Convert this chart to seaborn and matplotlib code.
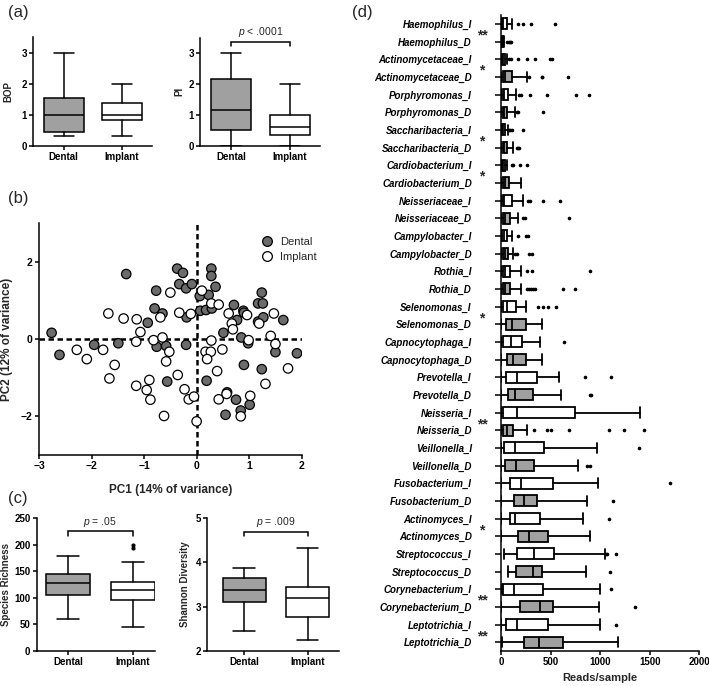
import numpy as np
import pandas as pd
import matplotlib
matplotlib.use("Agg")
import matplotlib.pyplot as plt
import matplotlib.transforms as mtransforms
from matplotlib.lines import Line2D
import seaborn as sns

# ---------------- data ----------------
groups = ["Dental", "Implant"]

# (a) BOP / PI box stats: whislo, q1, med, q3, whishi
bop_lo = [0.33, 0.33]
bop_q1 = [0.45, 0.82]
bop_med = [1.0, 1.0]
bop_q3 = [1.55, 1.37]
bop_hi = [3.0, 2.0]

pi_lo = [0.0, 0.0]
pi_q1 = [0.52, 0.33]
pi_med = [1.17, 0.60]
pi_q3 = [2.17, 1.0]
pi_hi = [3.0, 2.0]

# (b) PCA scores
dental_pc1 = [-2.76, -2.61, -1.95, -1.49, -1.34, -0.93, -0.77, -0.80, -0.65, -0.76,
              -0.58, -0.56, -0.37, -0.26, -0.33, -0.20, -0.09, -0.19, -0.20, 0.28,
              0.28, 0.36, 0.06, 0.23, 0.07, 0.18, 0.29, 0.19, 0.51, 0.71,
              0.77, 0.89, 0.90, 0.85, 0.98, 0.90, 1.17, 1.24, 1.17, 1.26,
              1.27, 1.24, 1.50, 1.65, 1.91, 0.58, 0.75, 0.84, 1.01, 0.55]
dental_pc2 = [0.16, -0.41, -0.15, -0.11, 1.68, 0.42, 1.25, 0.79, 0.66, -0.20,
              -0.18, -1.10, 1.82, 1.71, 1.42, 1.31, 1.42, 0.56, -0.15, 1.82,
              1.63, 1.35, 1.11, 1.14, 0.73, 0.75, 0.79, -1.08, 0.16, 0.88,
              0.49, 0.73, 0.68, 0.04, -0.11, -0.67, 0.45, 1.20, 0.92, 0.92,
              0.56, -0.78, -0.34, 0.49, -0.37, -1.38, -1.57, -1.85, -1.70, -1.96]
implant_pc1 = [-2.28, -2.09, -1.78, -1.68, -1.39, -1.56, -1.66, -1.14, -1.07, -1.15,
               -1.15, -0.95, -0.90, -0.88, -0.69, -0.82, -0.65, -0.52, -0.58, -0.50,
               -0.33, -0.11, -0.36, -0.23, -0.15, -0.05, -0.62, 0.10, 0.28, 0.42,
               0.28, 0.17, 0.27, 0.20, 0.49, 0.39, 0.42, 0.57, 0.61, 0.67,
               0.69, 0.96, 0.99, 1.02, 0.84, 1.19, 1.41, 1.47, 1.50, 1.31,
               1.74, 0.00]
implant_pc2 = [-0.28, -0.52, -0.28, 0.66, 0.53, -0.67, -1.02, 0.51, 0.18, -0.07,
               -1.21, -1.32, -1.06, -1.57, 0.56, -0.03, 0.04, -0.33, -0.58, 1.20,
               0.68, 0.65, -0.93, -1.30, -1.56, -1.49, -1.99, 1.25, 0.92, 0.89,
               -0.04, -0.33, -0.33, -0.52, -0.27, -0.83, -1.56, -1.42, 0.66, 0.40,
               0.25, 0.62, -0.03, -1.47, -2.00, 0.40, 0.08, 0.66, -0.13, -1.16,
               -0.76, -2.13]

# (c) richness / Shannon box stats
rich_lo = [61, 45]
rich_q1 = [105, 95]
rich_med = [128, 114]
rich_q3 = [145, 130]
rich_hi = [179, 168]
rich_fliers = [[], [193, 200]]

sh_lo = [2.46, 2.25]
sh_q1 = [3.11, 2.77]
sh_med = [3.38, 3.20]
sh_q3 = [3.64, 3.45]
sh_hi = [3.88, 4.32]

# (d) reads/sample per taxon (top to bottom)
taxa = ["Haemophilus_I", "Haemophilus_D", "Actinomycetaceae_I", "Actinomycetaceae_D",
        "Porphyromonas_I", "Porphyromonas_D", "Saccharibacteria_I", "Saccharibacteria_D",
        "Cardiobacterium_I", "Cardiobacterium_D", "Neisseriaceae_I", "Neisseriaceae_D",
        "Campylobacter_I", "Campylobacter_D", "Rothia_I", "Rothia_D",
        "Selenomonas_I", "Selenomonas_D", "Capnocytophaga_I", "Capnocytophaga_D",
        "Prevotella_I", "Prevotella_D", "Neisseria_I", "Neisseria_D",
        "Veillonella_I", "Veillonella_D", "Fusobacterium_I", "Fusobacterium_D",
        "Actinomyces_I", "Actinomyces_D", "Streptococcus_I", "Streptococcus_D",
        "Corynebacterium_I", "Corynebacterium_D", "Leptotrichia_I", "Leptotrichia_D"]
d_lo = [0, 0, 0, 0, 0, 0, 0, 0, 0, 0, 0, 0, 0, 0, 0, 0, 0, 0,
        0, 0, 0, 0, 0, 0, 0, 0, 0, 0, 0, 0, 30, 67, 10, 0, 0, 15]
d_q1 = [13, 2, 7, 17, 17, 17, 13, 17, 10, 17, 17, 17, 10, 17, 17, 17, 17, 47,
        17, 64, 47, 67, 24, 17, 30, 40, 91, 132, 91, 169, 165, 148, 17, 192, 47, 236]
d_med = [24, 8, 20, 44, 30, 30, 24, 30, 17, 44, 27, 44, 30, 40, 37, 44, 57, 115,
         101, 118, 165, 142, 165, 64, 142, 148, 202, 236, 142, 287, 334, 320, 135, 395, 165, 388]
d_q3 = [57, 20, 44, 115, 67, 61, 40, 57, 37, 78, 115, 88, 64, 67, 91, 91, 152, 253,
        216, 253, 361, 327, 742, 118, 435, 337, 523, 361, 395, 469, 530, 418, 422, 523, 479, 621]
d_hi = [115, 35, 57, 260, 148, 145, 67, 118, 64, 199, 226, 175, 108, 125, 202, 202, 253, 418,
        395, 411, 580, 607, 1400, 260, 968, 776, 978, 867, 826, 894, 1052, 860, 1002, 992, 1002, 1180]
d_fliers = [[175, 219, 300, 546], [60, 80, 95, 105], [81, 98, 175, 260, 344, 496, 513],
            [287, 411, 418, 675], [186, 199, 293, 462, 759, 887], [159, 169, 428],
            [78, 91, 111, 226], [159, 175, 186], [108, 125, 192, 266], [],
            [270, 293, 422, 597], [226, 243, 681], [175, 250, 270], [142, 159, 287, 310],
            [260, 317, 901], [260, 287, 300, 320, 344, 624, 749], [371, 422, 479, 553], [],
            [631], [], [850, 1110], [901, 911], [], [337, 462, 503, 681, 1086, 1238, 1440],
            [1390], [867, 894], [1703], [1130], [1086], [], [1059, 1069, 1164], [1103],
            [1110], [1349], [1164], []]
sig_pairs = [(0, "**"), (2, "*"), (6, "*"), (8, "*"), (16, "*"), (22, "**"),
             (28, "*"), (32, "**"), (34, "**")]

# ---------------- style ----------------
sns.set_theme(style="ticks")
plt.rcParams["font.family"] = ["Liberation Sans", "DejaVu Sans"]
plt.rcParams["mathtext.fontset"] = "custom"
plt.rcParams["mathtext.rm"] = "Liberation Sans"
plt.rcParams["mathtext.it"] = "Liberation Sans:italic"
plt.rcParams["axes.linewidth"] = 1.1
plt.rcParams["axes.edgecolor"] = "black"
plt.rcParams["xtick.color"] = "black"
plt.rcParams["ytick.color"] = "black"

GREY = "#a0a0a0"
DARK = "#6b6b6b"
LW = 1.1

W, H = 709, 686
fig = plt.figure(figsize=(W / 100, H / 100), dpi=100)
fig.patch.set_facecolor("white")


def rect(l, t, r, b):
    return [l / W, 1 - b / H, (r - l) / W, (b - t) / H]


def make_stats(lo, q1, med, q3, hi, fl=None):
    out = []
    for i in range(len(lo)):
        out.append(dict(whislo=lo[i], q1=q1[i], med=med[i], q3=q3[i], whishi=hi[i],
                        fliers=(fl[i] if fl is not None else [])))
    return out


def boxprops(lw):
    return dict(boxprops=dict(edgecolor="black", linewidth=lw),
                whiskerprops=dict(color="black", linewidth=lw),
                capprops=dict(color="black", linewidth=lw),
                medianprops=dict(color="black", linewidth=lw),
                flierprops=dict(marker="o", markersize=2, markerfacecolor="black",
                                markeredgecolor="black", linestyle="none"))


def group_panel(ax, stats, xlim, ylim, yticks, ylabel, labelpad, tickfs=7):
    bp = ax.bxp(stats, positions=[0, 1], widths=0.68, capwidths=0.34, patch_artist=True,
                showfliers=True, manage_ticks=False, **boxprops(LW))
    for p, c in zip(bp["boxes"], [GREY, "white"]):
        p.set_facecolor(c)
    ax.set_xlim(*xlim)
    ax.set_ylim(*ylim)
    ax.set_xticks([0, 1])
    ax.set_xticklabels(groups, fontweight="bold", fontsize=7)
    ax.set_yticks(yticks)
    ax.set_yticklabels([f"{v:g}" for v in yticks], fontweight="bold", fontsize=tickfs)
    ax.set_ylabel(ylabel, fontweight="bold", fontsize=7, labelpad=labelpad)
    sns.despine(ax=ax)
    ax.tick_params(length=3, width=LW, pad=1.5)
    ax.set_facecolor("white")


def bracket(ax, y, h, text, dy):
    ax.plot([0, 0, 1, 1], [y - h, y, y, y - h], color="black", lw=LW, clip_on=False,
            solid_joinstyle="miter")
    ax.text(0.5, y + dy, text, ha="center", va="bottom", fontsize=7.5)


# ---------------- (a) ----------------
ax_bop = fig.add_axes(rect(33, 37, 152, 146))
group_panel(ax_bop, make_stats(bop_lo, bop_q1, bop_med, bop_q3, bop_hi),
            (-0.53, 1.52), (0, 3.5), [0, 1, 2, 3], "BOP", 6)

ax_pi = fig.add_axes(rect(200, 38, 320, 145.5))
group_panel(ax_pi, make_stats(pi_lo, pi_q1, pi_med, pi_q3, pi_hi),
            (-0.525, 1.51), (0, 3.5), [0, 1, 2, 3], "PI", 3)
bracket(ax_pi, 3.38, 0.13, "$p$ < .0001", 0.1)

# ---------------- (b) ----------------
ax_b = fig.add_axes(rect(39, 223, 301.7, 455))
df = pd.DataFrame({
    "PC1": dental_pc1 + implant_pc1,
    "PC2": dental_pc2 + implant_pc2,
    "Group": ["Dental"] * len(dental_pc1) + ["Implant"] * len(implant_pc1),
})
ax_b.axhline(0, color="black", lw=1.8, ls=(0, (2.2, 1.4)), zorder=1)
ax_b.axvline(0, color="black", lw=1.8, ls=(0, (2.2, 1.4)), zorder=1)
sns.scatterplot(data=df, x="PC1", y="PC2", hue="Group",
                palette={"Dental": DARK, "Implant": "white"},
                s=46, edgecolor="black", linewidth=0.9, legend=False, ax=ax_b, zorder=3)
ax_b.set_xlim(-3, 2)
ax_b.set_ylim(-3, 3)
ax_b.set_xticks([-3, -2, -1, 0, 1, 2])
ax_b.set_xticklabels(["\u22123", "\u22122", "\u22121", "0", "1", "2"], fontweight="bold", fontsize=7.5)
ax_b.set_yticks([-2, 0, 2])
ax_b.set_yticklabels(["\u22122", "0", "2"], fontweight="bold", fontsize=7.5)
ax_b.set_xlabel("PC1 (14% of variance)", fontweight="bold", fontsize=8.5, labelpad=9)
ax_b.set_ylabel("PC2 (12% of variance)", fontweight="bold", fontsize=8.5, labelpad=6)
sns.despine(ax=ax_b)
ax_b.tick_params(length=3, width=LW, pad=1.5)
ax_b.set_facecolor("white")
handles = [Line2D([], [], marker="o", ls="none", markersize=7, markerfacecolor=DARK,
                  markeredgecolor="black", markeredgewidth=0.9, label="Dental"),
           Line2D([], [], marker="o", ls="none", markersize=7, markerfacecolor="white",
                  markeredgecolor="black", markeredgewidth=0.9, label="Implant")]
ax_b.legend(handles=handles, loc="upper left", bbox_to_anchor=(0.845, 0.94), frameon=False,
            fontsize=8, handlelength=1.0, handletextpad=0.7, labelspacing=0.45, borderpad=0,
            borderaxespad=0)

# ---------------- (c) ----------------
ax_r = fig.add_axes(rect(36.7, 518, 155, 651))
group_panel(ax_r, make_stats(rich_lo, rich_q1, rich_med, rich_q3, rich_hi, rich_fliers),
            (-0.48, 1.34), (0, 250), [0, 50, 100, 150, 200, 250], "Species Richness", 2)
bracket(ax_r, 225, 8, "$p$ = .05", 4)

ax_s = fig.add_axes(rect(207.3, 518, 339.3, 651))
group_panel(ax_s, make_stats(sh_lo, sh_q1, sh_med, sh_q3, sh_hi),
            (-0.58, 1.50), (2, 5), [2, 3, 4, 5], "Shannon Diversity", 4)
bracket(ax_s, 4.68, 0.09, "$p$ = .009", 0.07)

# ---------------- (d) ----------------
ax_d = fig.add_axes(rect(501, 15, 699.3, 651))
pos = list(range(len(taxa)))
bp = ax_d.bxp(make_stats(d_lo, d_q1, d_med, d_q3, d_hi, d_fliers), positions=pos,
              widths=0.62, capwidths=0.6, patch_artist=True, showfliers=True,
              manage_ticks=False, orientation="horizontal", **boxprops(1.3))
for i, p in enumerate(bp["boxes"]):
    p.set_facecolor("white" if taxa[i].endswith("_I") else GREY)
for f in bp["fliers"]:
    f.set_markersize(1.6)
ax_d.set_ylim(35.5, -0.5)
ax_d.set_xlim(0, 2000)
ax_d.set_yticks(pos)
ax_d.set_yticklabels(taxa, fontweight="bold", fontstyle="italic", fontsize=7)
ax_d.set_xticks([0, 500, 1000, 1500, 2000])
ax_d.set_xticklabels(["0", "500", "1000", "1500", "2000"], fontweight="bold", fontsize=7)
ax_d.set_xlabel("Reads/sample", fontweight="bold", fontsize=8, labelpad=4)
sns.despine(ax=ax_d)
ax_d.tick_params(axis="y", length=4, width=LW, pad=17)
ax_d.tick_params(axis="x", length=3, width=LW, pad=1.5)
ax_d.set_facecolor("white")
trans = mtransforms.blended_transform_factory(ax_d.transAxes, ax_d.transData)
for idx, star in sig_pairs:
    ax_d.text(-0.096, idx + 0.5 + 0.15, star, transform=trans, ha="center", va="center",
              fontsize=10, fontweight="bold", clip_on=False)

# ---------------- panel labels ----------------
for lab, x, y in [("(a)", 8, 13), ("(b)", 8, 199), ("(c)", 8, 498), ("(d)", 352, 12)]:
    fig.text(x / W, 1 - y / H, lab, ha="left", va="center", fontsize=12)

fig.savefig("out.png", dpi=100, facecolor="white")
